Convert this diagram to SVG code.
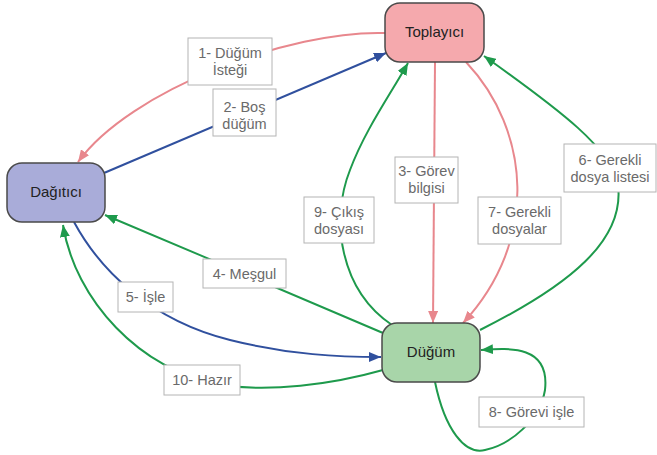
<svg xmlns="http://www.w3.org/2000/svg" width="657" height="455" viewBox="0 0 657 455">
<defs>
<style>
.node{stroke:#4a4a4a;stroke-width:1.5}
.nt{font-family:"Liberation Sans",Arial,sans-serif;font-size:15px;fill:#222;text-anchor:middle}
.lb{fill:#fff;stroke:#b4b4b4;stroke-width:1}
.lt{font-family:"Liberation Sans",Arial,sans-serif;font-size:14.5px;fill:#6a6a6a;text-anchor:middle}
.e{fill:none;stroke-width:2}
.pink{stroke:#e8878d}
.blue{stroke:#30509e}
.green{stroke:#1e9a4c}
</style>
<marker id="ap" viewBox="0 0 12 10" refX="12" refY="5" markerWidth="12" markerHeight="10" markerUnits="userSpaceOnUse" orient="auto"><path d="M0,0 L12,5 L0,10 z" fill="#e8878d"/></marker>
<marker id="ab" viewBox="0 0 12 10" refX="12" refY="5" markerWidth="12" markerHeight="10" markerUnits="userSpaceOnUse" orient="auto"><path d="M0,0 L12,5 L0,10 z" fill="#30509e"/></marker>
<marker id="ag" viewBox="0 0 12 10" refX="12" refY="5" markerWidth="12" markerHeight="10" markerUnits="userSpaceOnUse" orient="auto"><path d="M0,0 L12,5 L0,10 z" fill="#1e9a4c"/></marker>
</defs>
<rect width="657" height="455" fill="#fff"/>
<g id="connectors">
<path class="e pink" d="M385,33 C290,30 130,90 78,162" marker-end="url(#ap)"/>
<path class="e blue" d="M104,173 L386,53" marker-end="url(#ab)"/>
<path class="e pink" d="M435,62 L433,323" marker-end="url(#ap)"/>
<path class="e pink" d="M466,62 C530,130 540,240 463,323" marker-end="url(#ap)"/>
<path class="e green" d="M480,330 C570,285 625,240 618,185 C613,150 560,110 484,56" marker-end="url(#ag)"/>
<path class="e green" d="M392,325 C340,290 330,220 350,170 C365,130 390,95 408,63" marker-end="url(#ag)"/>
<path class="e green" d="M383,333 C330,310 200,255 105,215" marker-end="url(#ag)"/>
<path class="e blue" d="M74,222 C100,270 150,320 230,340 C290,355 340,357 381,357" marker-end="url(#ab)"/>
<path class="e green" d="M383,370 C330,385 270,392 220,385 C140,370 75,300 63,225" marker-end="url(#ag)"/>
<path class="e green" d="M435,382 C445,430 465,455 485,450 C510,445 540,420 545,390 C550,345 510,348 481,350" marker-end="url(#ag)"/>
<g id="labels">
<rect class="lb" x="188" y="38" width="84" height="47"/><text class="lt" x="230" y="58">1- Düğüm</text><text class="lt" x="230" y="75">İsteği</text>
<rect class="lb" x="213" y="89" width="63" height="47"/><text class="lt" x="244.5" y="112">2- Boş</text><text class="lt" x="244.5" y="129">düğüm</text>
<rect class="lb" x="395" y="157" width="63" height="46"/><text class="lt" x="426.5" y="176">3- Görev</text><text class="lt" x="426.5" y="193">bilgisi</text>
<rect class="lb" x="478" y="197" width="83" height="47"/><text class="lt" x="519.5" y="217">7- Gerekli</text><text class="lt" x="519.5" y="234">dosyalar</text>
<rect class="lb" x="564" y="144" width="92" height="48"/><text class="lt" x="610" y="165">6- Gerekli</text><text class="lt" x="610" y="182">dosya listesi</text>
<rect class="lb" x="304" y="197" width="70" height="46"/><text class="lt" x="339" y="217">9- Çıkış</text><text class="lt" x="339" y="234">dosyası</text>
<rect class="lb" x="203" y="259" width="83" height="29"/><text class="lt" x="244.5" y="279">4- Meşgul</text>
<rect class="lb" x="118" y="282" width="55" height="30"/><text class="lt" x="145.5" y="302">5- İşle</text>
<rect class="lb" x="164" y="365" width="76" height="30"/><text class="lt" x="202" y="385">10- Hazır</text>
<rect class="lb" x="479" y="397" width="105" height="30"/><text class="lt" x="531.5" y="417">8- Görevi işle</text>
</g>
</g>
<g id="toplayici"><rect class="node" x="385" y="3" width="99" height="59" rx="15" fill="#f5a9ad"/><text class="nt" x="434.5" y="37">Toplayıcı</text></g>
<g id="dagitici"><rect class="node" x="7" y="163" width="98" height="59" rx="15" fill="#a9acd9"/><text class="nt" x="56" y="197">Dağıtıcı</text></g>
<g id="dugum"><rect class="node" x="382" y="323" width="98" height="59" rx="15" fill="#a8d5a9"/><text class="nt" x="431" y="357">Düğüm</text></g>
</svg>
